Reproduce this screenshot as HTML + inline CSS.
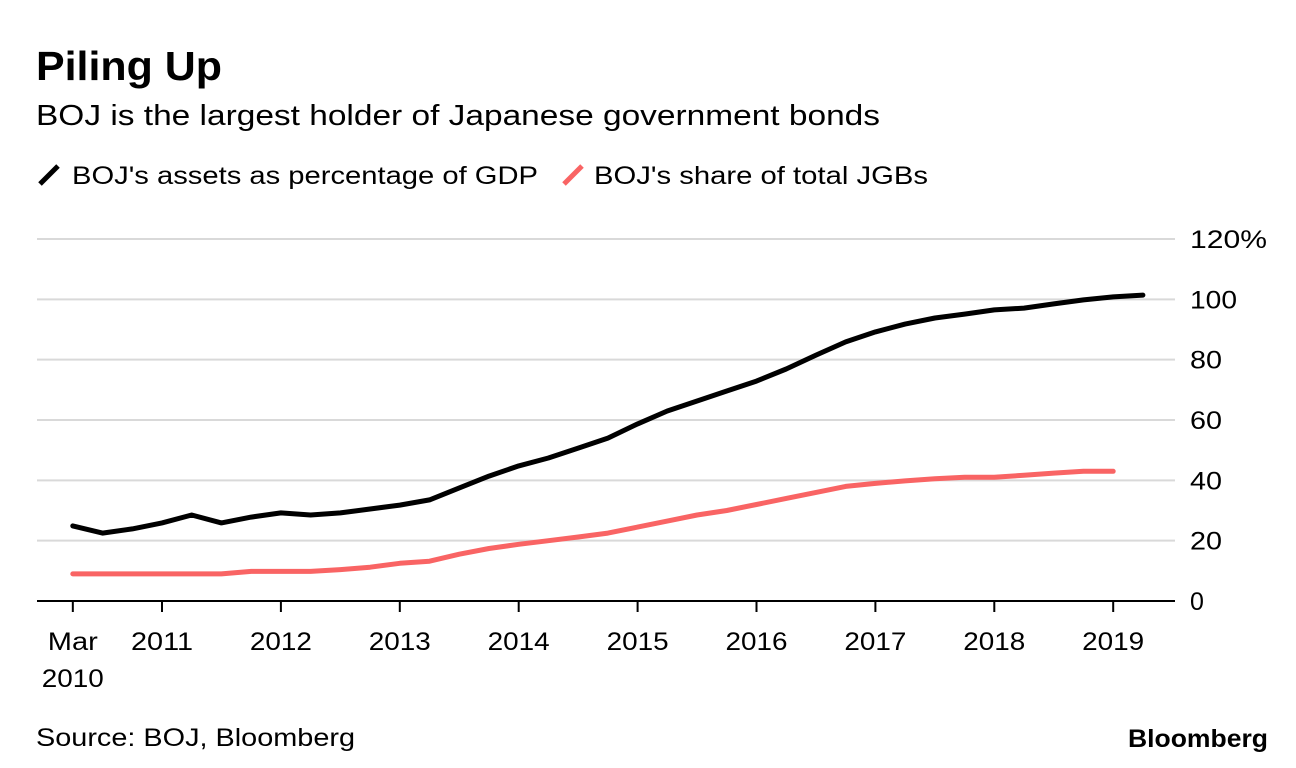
<!DOCTYPE html>
<html><head><meta charset="utf-8"><style>
html,body{margin:0;padding:0;background:#fff;width:1296px;height:768px;overflow:hidden;font-family:"Liberation Sans",sans-serif;}
svg text{font-family:"Liberation Sans",sans-serif;}
</style></head><body>
<svg id="chart" width="1296" height="768" xmlns="http://www.w3.org/2000/svg">
<text x="36" y="80" font-size="41" font-weight="bold" fill="#000" textLength="186" lengthAdjust="spacingAndGlyphs">Piling Up</text>
<text x="36" y="125" font-size="29" fill="#000" textLength="844" lengthAdjust="spacingAndGlyphs">BOJ is the largest holder of Japanese government bonds</text>
<g>
<g>
<line x1="40" y1="184" x2="58" y2="166" stroke="#000" stroke-width="5"/>
<text x="72" y="184" font-size="25" fill="#000" textLength="466" lengthAdjust="spacingAndGlyphs">BOJ's assets as percentage of GDP</text>
</g>
<g>
<line x1="564" y1="184" x2="582" y2="166" stroke="#f96464" stroke-width="5"/>
<text x="594" y="184" font-size="25" fill="#000" textLength="334" lengthAdjust="spacingAndGlyphs">BOJ's share of total JGBs</text>
</g>
</g>
<g id="grid"></g>
<g id="ylabels"></g>
<g id="xaxis"></g>
<g id="series"></g>
<text x="36" y="746" font-size="25" fill="#000" textLength="319" lengthAdjust="spacingAndGlyphs">Source: BOJ, Bloomberg</text>
<text x="1128" y="747" font-size="25" font-weight="bold" fill="#000" textLength="140" lengthAdjust="spacingAndGlyphs">Bloomberg</text>
</svg>
<script>
const yTicks=[0,20,40,60,80,100,120];
const yTickLabels=["0","20","40","60","80","100","120%"];
const xTicks=[2010.25,2011,2012,2013,2014,2015,2016,2017,2018,2019];
const xTickLabels=["Mar","2011","2012","2013","2014","2015","2016","2017","2018","2019"];
const assetsGDP=[24.9,22.5,23.9,25.9,28.5,25.9,27.8,29.2,28.5,29.2,30.5,31.8,33.5,37.5,41.4,44.8,47.4,50.7,54,58.7,63,66.3,69.6,72.9,76.9,81.5,85.9,89.2,91.8,93.8,95.1,96.5,97.1,98.5,99.8,100.8,101.4];
const jgbShare=[9,9,9,9,9,9,9.8,9.8,9.8,10.4,11.2,12.5,13.2,15.5,17.4,18.8,20,21.2,22.5,24.5,26.5,28.5,30,32,34,36,38,39,39.8,40.5,41,41,41.7,42.4,43,43];
const startT=2010.25, step=0.25;
const NS="http://www.w3.org/2000/svg";
function xs(t){return 162+(t-2011)*118.9;}
function ys(v){return 601-v*(362/120);}
function mk(tag,attrs,parent){const e=document.createElementNS(NS,tag);for(const k in attrs)e.setAttribute(k,attrs[k]);parent.appendChild(e);return e;}
const grid=document.getElementById('grid'),yl=document.getElementById('ylabels'),xa=document.getElementById('xaxis'),se=document.getElementById('series');
yTicks.forEach((v,i)=>{
 if(v!==0){const l=mk('line',{x1:37,x2:1175,y1:ys(v),y2:ys(v),stroke:'#d9d9d9','stroke-width':2},grid);
 
 }
 const t=mk('text',{x:1190,y:ys(v)+9,'font-size':25,fill:'#000'},yl);t.textContent=yTickLabels[i];
 if(yTickLabels[i].length>=3){t.setAttribute('textLength',yTickLabels[i].length===4?77:47);t.setAttribute('lengthAdjust','spacingAndGlyphs');}
 else if(yTickLabels[i].length===2){t.setAttribute('textLength',32);t.setAttribute('lengthAdjust','spacingAndGlyphs');}
 
 
});
const ax=mk('line',{x1:37,x2:1175,y1:601,y2:601,stroke:'#000','stroke-width':2},xa);


xTicks.forEach((t,i)=>{
 const tk=mk('line',{x1:xs(t),x2:xs(t),y1:601,y2:612,stroke:'#000','stroke-width':2},xa);
 
 
 const tx=mk('text',{x:xs(t),y:650,'font-size':25,'text-anchor':'middle',fill:'#000'},xa);tx.textContent=xTickLabels[i];
 tx.setAttribute('textLength',xTickLabels[i].length===4?62:50);
 tx.setAttribute('lengthAdjust','spacingAndGlyphs');
 
 
});
const t2=mk('text',{x:xs(2010.25),y:687,'font-size':25,'text-anchor':'middle',fill:'#000',textLength:62,lengthAdjust:'spacingAndGlyphs'},xa);t2.textContent="2010";


function line(arr,color,name){
 const pts=arr.map((v,i)=>xs(startT+i*step).toFixed(1)+','+ys(v).toFixed(1)).join(' ');
 const p=mk('polyline',{points:pts,fill:'none',stroke:color,'stroke-width':5,'stroke-linejoin':'round','stroke-linecap':'round'},se);
 
 
}
line(jgbShare,'#f96464','jgb-share-line');
line(assetsGDP,'#000','assets-gdp-line');
</script>
</body></html>
